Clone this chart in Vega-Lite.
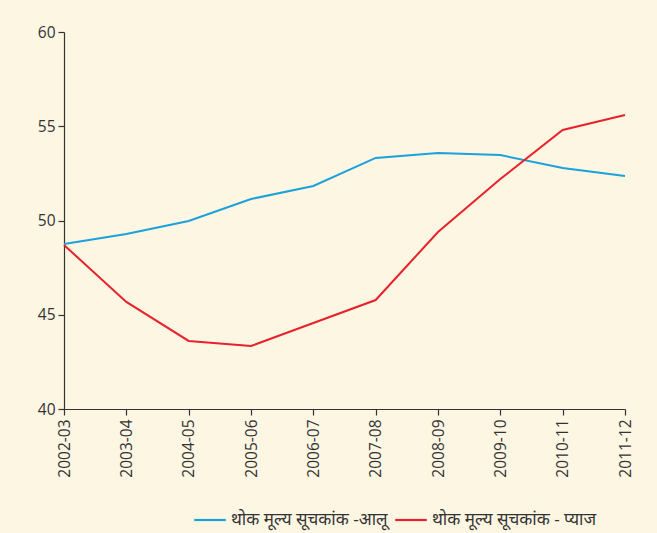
{
  "$schema": "https://vega.github.io/schema/vega-lite/v6.json",
  "autosize": "none",
  "width": 561,
  "height": 377,
  "padding": {"left": 64, "top": 32, "right": 32, "bottom": 124},
  "background": "#fdf6e3",
  "config": {
    "view": {"stroke": null},
    "font": "Open Sans",
    "axis": {"labelFont": "Open Sans", "labelColor": "#333333", "domainColor": "#333333", "tickColor": "#333333", "grid": false, "labelFontSize": 15.5, "domainWidth": 1.2, "tickWidth": 1.2}
  },
  "data": {
    "values": [
      {"year": "2002-03", "series": "थोक मूल्य सूचकांक -आलू", "value": 48.75},
      {"year": "2003-04", "series": "थोक मूल्य सूचकांक -आलू", "value": 49.28},
      {"year": "2004-05", "series": "थोक मूल्य सूचकांक -आलू", "value": 49.97},
      {"year": "2005-06", "series": "थोक मूल्य सूचकांक -आलू", "value": 51.14},
      {"year": "2006-07", "series": "थोक मूल्य सूचकांक -आलू", "value": 51.83},
      {"year": "2007-08", "series": "थोक मूल्य सूचकांक -आलू", "value": 53.32},
      {"year": "2008-09", "series": "थोक मूल्य सूचकांक -आलू", "value": 53.58},
      {"year": "2009-10", "series": "थोक मूल्य सूचकांक -आलू", "value": 53.47},
      {"year": "2010-11", "series": "थोक मूल्य सूचकांक -आलू", "value": 52.79},
      {"year": "2011-12", "series": "थोक मूल्य सूचकांक -आलू", "value": 52.36},
      {"year": "2002-03", "series": "थोक मूल्य सूचकांक - प्याज", "value": 48.7},
      {"year": "2003-04", "series": "थोक मूल्य सूचकांक - प्याज", "value": 45.68},
      {"year": "2004-05", "series": "थोक मूल्य सूचकांक - प्याज", "value": 43.61},
      {"year": "2005-06", "series": "थोक मूल्य सूचकांक - प्याज", "value": 43.34},
      {"year": "2006-07", "series": "थोक मूल्य सूचकांक - प्याज", "value": 44.56},
      {"year": "2007-08", "series": "थोक मूल्य सूचकांक - प्याज", "value": 45.78},
      {"year": "2008-09", "series": "थोक मूल्य सूचकांक - प्याज", "value": 49.39},
      {"year": "2009-10", "series": "थोक मूल्य सूचकांक - प्याज", "value": 52.2},
      {"year": "2010-11", "series": "थोक मूल्य सूचकांक - प्याज", "value": 54.8},
      {"year": "2011-12", "series": "थोक मूल्य सूचकांक - प्याज", "value": 55.6}
    ]
  },
  "mark": {"type": "line", "strokeWidth": 2},
  "encoding": {
    "x": {"field": "year", "type": "ordinal", "scale": {"type": "point", "padding": 0}, "axis": {"title": null, "labelAngle": -90, "tickSize": 6, "labelPadding": 4}},
    "y": {"field": "value", "type": "quantitative", "scale": {"domain": [40, 60], "nice": false, "zero": false}, "axis": {"title": null, "values": [40, 45, 50, 55, 60], "tickSize": 6, "labelPadding": 3}},
    "color": {
      "field": "series", "type": "nominal",
      "sort": ["थोक मूल्य सूचकांक -आलू", "थोक मूल्य सूचकांक - प्याज"],
      "scale": {"domain": ["थोक मूल्य सूचकांक -आलू", "थोक मूल्य सूचकांक - प्याज"], "range": ["#1ba1db", "#e8212b"]},
      "legend": {"title": null, "orient": "none", "legendX": 129, "legendY": 471, "direction": "horizontal", "symbolType": "stroke", "symbolStrokeWidth": 2.2, "symbolSize": 1000, "labelFontSize": 17, "labelLimit": 400, "labelColor": "#333333", "labelFont": "Noto Sans", "labelOffset": 4, "columnPadding": 2}
    }
  }
}
